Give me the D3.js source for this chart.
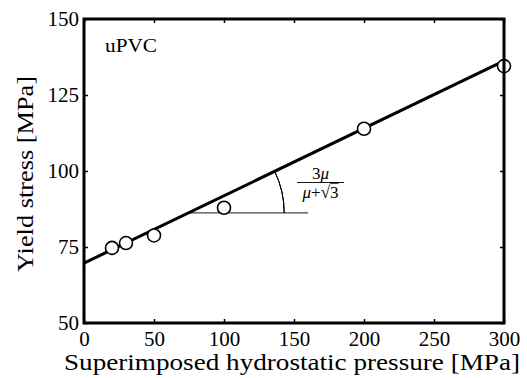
<!DOCTYPE html>
<html>
<head>
<meta charset="utf-8">
<script src="https://cdn.jsdelivr.net/npm/d3@7"></script>
<style>
  body { margin: 0; background: #fff; }
  text { font-family: "Liberation Serif", "DejaVu Serif", serif; fill: #000; }
</style>
</head>
<body>
<div id="chart"></div>
<script>
// measured values
const pressure = [20, 30, 50, 100, 200, 300];
const yieldStress = [74.7, 76.3, 78.8, 87.9, 113.9, 134.5];
const fitX = [0, 300];
const fitY = [69.7, 136.2];
const refX = [74, 160];
const refY = 86.2;
const xTicks = [0, 50, 100, 150, 200, 250, 300];
const yTicks = [50, 75, 100, 125, 150];

const svg = d3.select("#chart").append("svg")
  .attr("width", 527)
  .attr("height", 378);

const margin = {top: 19, right: 23, bottom: 55, left: 84};
const width = 527 - margin.left - margin.right;
const height = 378 - margin.top - margin.bottom;

const x = d3.scaleLinear().domain([0, 300]).range([0, width]);
const y = d3.scaleLinear().domain([50, 150]).range([height, 0]);

const g = svg.append("g")
  .attr("transform", "translate(" + margin.left + "," + margin.top + ")");

// reference horizontal line + angle arc
g.append("line")
  .attr("x1", x(refX[0])).attr("x2", x(refX[1]))
  .attr("y1", y(refY)).attr("y2", y(refY))
  .attr("stroke", "#444").attr("stroke-width", 1.2);

const slope = (fitY[1] - fitY[0]) / (fitX[1] - fitX[0]);
const xc = fitX[0] + (refY - fitY[0]) / slope; // where fit crosses the reference
const ang = Math.atan2(y(refY) - y(refY + slope * 10), x(xc + 10) - x(xc));
const r = 96;
g.append("path")
  .attr("transform", "translate(" + x(xc) + "," + y(refY) + ")")
  .attr("d", d3.arc()({innerRadius: r, outerRadius: r, startAngle: Math.PI / 2 - ang, endAngle: Math.PI / 2}))
  .attr("fill", "none").attr("stroke", "#000").attr("stroke-width", 1);

// fitted line
g.append("path")
  .datum(fitX.map((d, i) => [d, fitY[i]]))
  .attr("d", d3.line().x(d => x(d[0])).y(d => y(d[1])))
  .attr("fill", "none").attr("stroke", "#000").attr("stroke-width", 3);

// data points
g.selectAll("circle.pt")
  .data(pressure.map((d, i) => [d, yieldStress[i]]))
  .enter().append("circle")
  .attr("class", "pt")
  .attr("cx", d => x(d[0])).attr("cy", d => y(d[1]))
  .attr("r", 6.5)
  .attr("fill", "#fff").attr("stroke", "#000").attr("stroke-width", 1.6);

// axes (box with mirrored inner ticks)
const ax = (sel) => sel.call(s => s.select(".domain").remove())
  .call(s => s.selectAll("line").attr("stroke", "#000").attr("stroke-width", 1.5));

g.append("g").attr("transform", "translate(0," + height + ")")
  .call(d3.axisBottom(x).tickValues(xTicks).tickSize(-4).tickPadding(8))
  .call(ax)
  .call(s => s.selectAll("text").attr("font-size", 21).attr("font-family", "Liberation Serif").attr("dy", "0.71em"));
g.append("g")
  .call(d3.axisTop(x).tickValues(xTicks).tickSize(-4).tickFormat(""))
  .call(ax);
g.append("g")
  .call(d3.axisLeft(y).tickValues(yTicks).tickSize(-4).tickPadding(5))
  .call(ax)
  .call(s => s.selectAll("text").attr("font-size", 21).attr("font-family", "Liberation Serif"));
g.append("g").attr("transform", "translate(" + width + ",0)")
  .call(d3.axisRight(y).tickValues(yTicks).tickSize(-4).tickFormat(""))
  .call(ax);

g.append("rect")
  .attr("width", width).attr("height", height)
  .attr("fill", "none").attr("stroke", "#000").attr("stroke-width", 3);

// labels
g.append("text")
  .attr("x", 21).attr("y", 33)
  .attr("font-size", 18)
  .attr("textLength", 52).attr("lengthAdjust", "spacingAndGlyphs")
  .text("uPVC");

svg.append("text")
  .attr("x", 292).attr("y", 370)
  .attr("text-anchor", "middle")
  .attr("font-size", 23)
  .attr("textLength", 456).attr("lengthAdjust", "spacingAndGlyphs")
  .text("Superimposed hydrostatic pressure [MPa]");

svg.append("text")
  .attr("transform", "translate(33,174) rotate(-90)")
  .attr("text-anchor", "middle")
  .attr("font-size", 23)
  .attr("textLength", 196).attr("lengthAdjust", "spacingAndGlyphs")
  .text("Yield stress [MPa]");

// slope annotation
const fx = 320.5;
const frac = svg.append("g").attr("font-size", 17);
frac.append("text").attr("x", fx).attr("y", 179).attr("text-anchor", "middle")
  .call(t => { t.append("tspan").text("3"); t.append("tspan").attr("font-style", "italic").text("μ"); });
frac.append("line").attr("x1", fx - 23.5).attr("x2", fx + 23.5).attr("y1", 182.5).attr("y2", 182.5)
  .attr("stroke", "#000").attr("stroke-width", 0.9);
frac.append("text").attr("x", fx).attr("y", 198).attr("text-anchor", "middle")
  .call(t => {
    t.append("tspan").attr("font-style", "italic").text("μ");
    t.append("tspan").text("+√");
    t.append("tspan").attr("text-decoration", "overline").text("3");
  });
</script>
</body>
</html>
